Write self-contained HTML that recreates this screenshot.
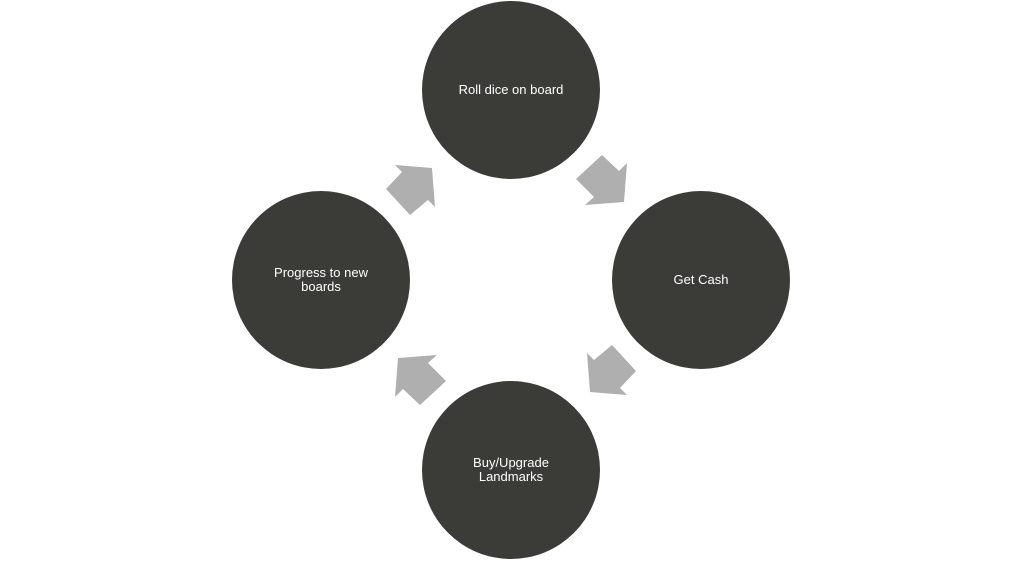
<!DOCTYPE html>
<html><head><style>
body{margin:0;width:1022px;height:561px;background:#fff;overflow:hidden}
</style></head><body>
<svg width="1022" height="561" viewBox="0 0 1022 561" xmlns="http://www.w3.org/2000/svg">
<g fill="#3b3c37">
<circle cx="511" cy="90" r="89"/>
<circle cx="701" cy="280" r="89"/>
<circle cx="511" cy="470" r="89"/>
<circle cx="321" cy="280" r="89"/>
</g>
<g fill="#afafaf">
<polygon points="576,179 602,155 619,171 627,163 624,202 585,205 594,197"/>
<polygon points="386,189 402,172 395,165 432,168 435,207 428,200 410,215"/>
<polygon points="636,371 620,388 627,395 590,392 587,353 594,360 612,345"/>
<polygon points="446,381 420,405 403,389 395,397 398,358 437,355 428,363"/>
</g>
<g fill="#fff" font-family="Liberation Sans, sans-serif" font-size="13" text-anchor="middle">
<text x="511" y="94">Roll dice on board</text>
<text x="701" y="284">Get Cash</text>
<text x="511" y="467">Buy/Upgrade</text>
<text x="511" y="481">Landmarks</text>
<text x="321" y="277">Progress to new</text>
<text x="321" y="291">boards</text>
</g>
</svg>
</body></html>
